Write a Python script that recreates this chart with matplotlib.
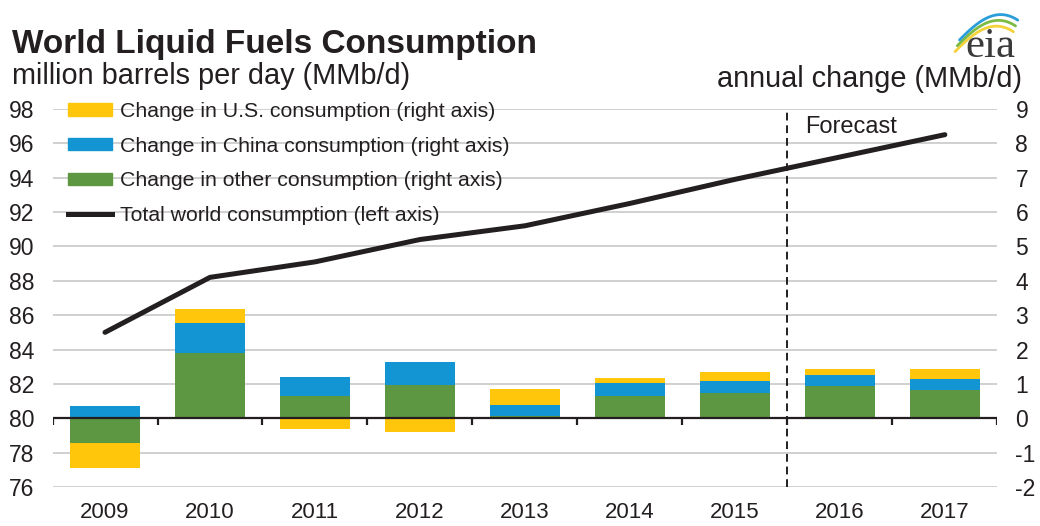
import numpy as np
import matplotlib
matplotlib.use('Agg')
import matplotlib.pyplot as plt
from matplotlib.patches import Patch
from matplotlib.lines import Line2D

plt.rcParams['font.family'] = ['Liberation Sans', 'DejaVu Sans']
plt.rcParams['axes.unicode_minus'] = False

# data
years = ['2009', '2010', '2011', '2012', '2013', '2014', '2015', '2016', '2017']
chg_other = [-0.72, 1.90, 0.65, 0.98, 0.06, 0.66, 0.74, 0.93, 0.83]
chg_china = [0.37, 0.86, 0.55, 0.67, 0.33, 0.36, 0.34, 0.32, 0.31]
chg_us = [-0.72, 0.41, -0.31, -0.41, 0.47, 0.16, 0.28, 0.17, 0.28]
total_world = [85.0, 88.2, 89.1, 90.4, 91.2, 92.5, 93.9, 95.2, 96.5]
forecast_start = 7  # index of first forecast year

c_us = '#FFC60B'
c_china = '#1395D3'
c_other = '#5E9741'
c_text = '#231F20'

fig = plt.figure(figsize=(10.4, 5.26), dpi=100)
ax = fig.add_axes([0.0505, 0.074, 0.9085, 0.719])
ax2 = ax.twinx()

x = np.arange(len(years))
w = 0.66

# stacked bars, positives up from zero, negatives down from zero
pos = np.zeros(len(years))
neg = np.zeros(len(years))
for vals, col in [(chg_other, c_other), (chg_china, c_china), (chg_us, c_us)]:
    vals = np.array(vals)
    bottom = np.where(vals >= 0, pos, neg)
    ax2.bar(x, vals, width=w, bottom=bottom, color=col, edgecolor='none', zorder=2)
    pos = pos + np.where(vals >= 0, vals, 0)
    neg = neg + np.where(vals < 0, vals, 0)

ax2.set_ylim(-2, 9)
ax2.set_yticks(np.arange(-2, 10, 1))
ax2.tick_params(axis='y', length=0, labelsize=16.5, pad=13, colors=c_text)

ax.set_zorder(ax2.get_zorder() + 1)
ax.patch.set_visible(False)
ax.plot(x, total_world, color=c_text, lw=3.6, solid_capstyle='round', zorder=5)
ax.set_ylim(76, 98)
ax.set_yticks(np.arange(76, 99, 2))
ax.set_xlim(-0.5, len(years) - 0.5)
ax.set_xticks(x)
ax.set_xticklabels(years)
ax.tick_params(axis='x', length=0, labelsize=16, pad=11, colors=c_text)
ax.tick_params(axis='y', length=0, labelsize=16.5, pad=13, colors=c_text)

# gridlines drawn on the bar axis so they sit under the bars
ax2.yaxis.grid(True, color='#CDCDCD', lw=1.3)
ax2.set_axisbelow(True)
for a in (ax, ax2):
    for s in a.spines.values():
        s.set_visible(False)

# zero line with category boundary ticks
ax2.axhline(0, color=c_text, lw=1.6, zorder=3)
bounds = np.arange(-0.5, len(years), 1)
ax2.vlines(bounds, -0.18, 0, color=c_text, lw=1.6, zorder=3)

# forecast divider
ax.axvline(forecast_start - 0.5, color=c_text, lw=1.4, ls=(0, (4, 2.5)), zorder=4)
ax.text(forecast_start - 0.5 + 0.17, 96.95, 'Forecast', fontsize=17,
        color=c_text, va='center', ha='left')

handles = [Patch(color=c_us), Patch(color=c_china), Patch(color=c_other),
           Line2D([], [], color=c_text, lw=3.6)]
labels = ['Change in U.S. consumption (right axis)',
          'Change in China consumption (right axis)',
          'Change in other consumption (right axis)',
          'Total world consumption (left axis)']
leg = ax.legend(handles, labels, loc='upper left', bbox_to_anchor=(0.065, 0.806),
                bbox_transform=fig.transFigure, frameon=False, fontsize=15.3,
                handlelength=2.1, handleheight=0.5, handletextpad=0.35,
                labelspacing=0.74, borderpad=0, borderaxespad=0)
for t in leg.get_texts():
    t.set_color(c_text)

fig.text(0.0115, 0.915, 'World Liquid Fuels Consumption', fontsize=24,
         fontweight='bold', color=c_text, va='center', ha='left')
fig.text(0.0115, 0.855, 'million barrels per day (MMb/d)', fontsize=20.8,
         color=c_text, va='center', ha='left')
fig.text(0.983, 0.850, 'annual change (MMb/d)', fontsize=20.8,
         color=c_text, va='center', ha='right')

# eia logo
lax = fig.add_axes([0.91, 0.88, 0.07, 0.11])
lax.set_xlim(0, 1)
lax.set_ylim(0, 1)
lax.axis('off')
t = np.linspace(0.0, 1.0, 60)
for col, off in [('#F4D23A', 0.0), ('#7DBB45', 0.1), ('#2A9ED8', 0.2)]:
    lax.plot(0.12 + off * 0.3 + 0.8 * t, 0.2 + off + 0.6 * np.sin(np.pi * 0.55 * t) - 0.25 * t ** 2,
             color=col, lw=2.0, solid_capstyle='round')
fig.text(0.952, 0.891, 'eia', fontsize=31, family=['Liberation Serif', 'DejaVu Serif'],
         color='#3A3A3A', ha='center', va='baseline')

fig.savefig('out.png', dpi=100)
